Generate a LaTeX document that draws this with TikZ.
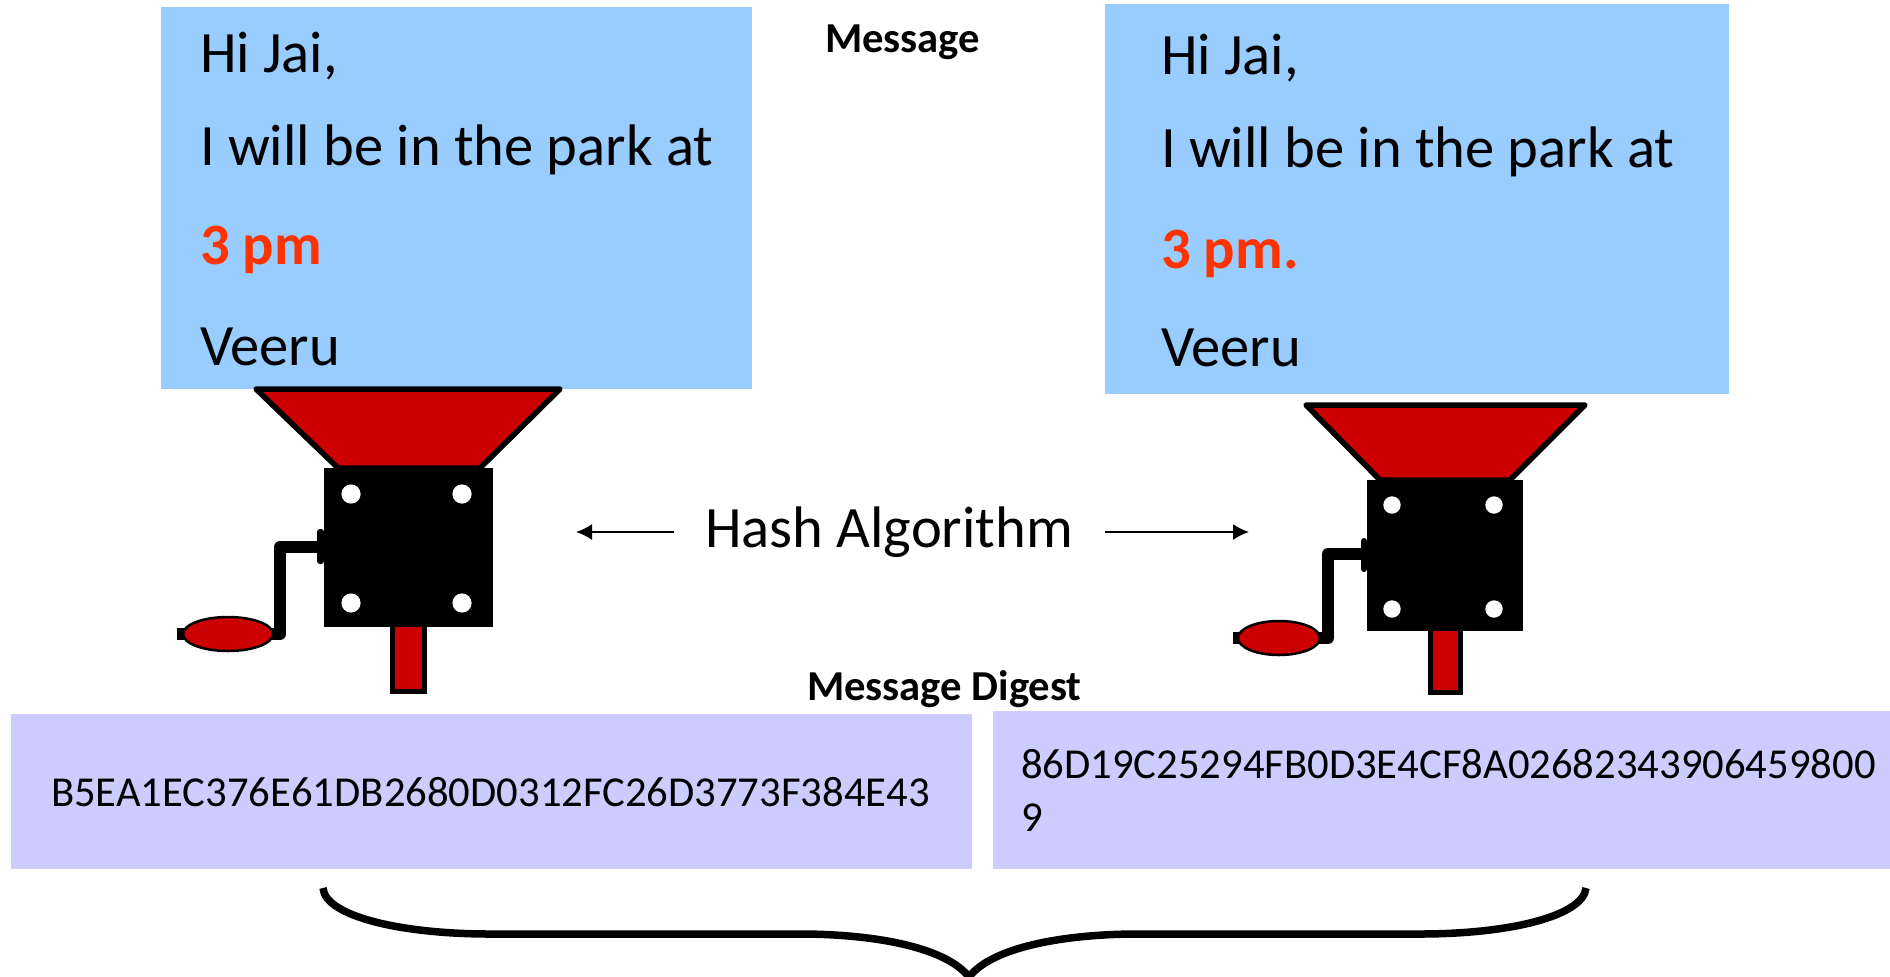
\documentclass[tikz,border=0pt]{standalone}
\usepackage{fontspec}
\setmainfont{Carlito}
\definecolor{msgblue}{HTML}{99CCFF}
\definecolor{digestblue}{HTML}{CCCCFF}
\definecolor{millred}{HTML}{CC0000}
\definecolor{hotred}{HTML}{FF3300}
\usetikzlibrary{arrows.meta}
\tikzset{
  msgbox/.style={fill=msgblue,draw=none},
  digestbox/.style={fill=digestblue,draw=none},
  txt/.style={anchor=base west,inner sep=0pt,outer sep=0pt,font=\fontsize{29.3pt}{34pt}\selectfont},
  hottxt/.style={anchor=base west,inner sep=0pt,outer sep=0pt,text=hotred,font=\fontsize{29.3pt}{34pt}\selectfont\bfseries},
  headtxt/.style={anchor=base west,inner sep=0pt,outer sep=0pt,font=\fontsize{21.33pt}{24pt}\selectfont\bfseries},
  hashtxt/.style={anchor=base west,inner sep=0pt,outer sep=0pt,font=\fontsize{21.33pt}{24pt}\selectfont},
  funnel/.style={fill=millred,draw=black,line width=2.75pt,line join=round},
  chute/.style={fill=millred,draw=black,line width=2.5pt},
  crank/.style={draw=black,line width=6pt,line join=round},
  handle/.style={fill=millred,draw=black,line width=1.25pt},
  hole/.style={fill=white,draw=none},
  harrow/.style={draw=black,line width=1pt,-{Latex[length=8pt,width=8pt]}},
  bracket/.style={draw=black,line width=3.75pt,line join=miter}
}
\begin{document}
\begin{tikzpicture}[x=0.5pt,y=-0.5pt]
\useasboundingbox (0,0) rectangle (1890,976);
\fill[white] (0,0) rectangle (1890,976);
% message boxes
\path[msgbox] (161,7) rectangle (752,389);
\path[msgbox] (1105,4) rectangle (1729,394);
\node[headtxt] (msghead) at (825,52) {Message};
\node[txt] (a1) at (200,72) {Hi Jai,};
\node[txt] (a2) at (200,165) {I will be in the park at};
\node[hottxt] (a3) at (200,264) {3 pm};
\node[txt] (a4) at (200,365) {Veeru};
\node[txt] (b1) at (1161,74) {Hi Jai,};
\node[txt] (b2) at (1161,167) {I will be in the park at};
\node[hottxt] (b3) at (1161,268) {3 pm.};
\node[txt] (b4) at (1161,366) {Veeru};
% left mill
\draw[crank] (320,547) -- (280,547) -- (280,634) -- (177,634);
\fill[rounded corners=1.5pt] (324,529) -- (317,529) -- (317,564) -- (324,564) -- cycle;
\draw[chute] (392.5,620) rectangle (424.5,691.5);
\draw[funnel] (256,389) -- (560,389) -- (480,468) -- (338,468) -- cycle;
\fill[black] (324,468) rectangle (493,627);
\foreach \x in {351,462} \foreach \y in {494,603} \fill[hole] (\x,\y) circle[radius=9.6];
\draw[handle] (228,634) ellipse[x radius=45,y radius=17];
% right mill
\draw[crank] (1362,554) -- (1328,554) -- (1328,638) -- (1233,638);
\fill[rounded corners=1.5pt] (1367,538) -- (1361,538) -- (1361,572) -- (1367,572) -- cycle;
\draw[chute] (1430.5,625) rectangle (1460.5,692.5);
\draw[funnel] (1306,405) -- (1585,405) -- (1510,480) -- (1380,480) -- cycle;
\fill[black] (1367,480) rectangle (1523,631);
\foreach \x in {1392,1494} \foreach \y in {505,609} \fill[hole] (\x,\y) circle[radius=8.7];
\draw[handle] (1279,638) ellipse[x radius=41,y radius=17];
% hash label and arrows
\node[txt] (hash) at (705,547) {Hash Algorithm};
\coordinate (lt) at (576,532);
\coordinate (ls) at (674,532);
\coordinate (rs) at (1105,532);
\coordinate (rt) at (1249,532);
\draw[harrow] (ls) -- (lt);
\draw[harrow] (rs) -- (rt);
% digests
\node[headtxt] (dighead) at (807,700) {Message Digest};
\path[digestbox] (11,714) rectangle (972,869);
\path[digestbox] (993,711) rectangle (1890,869);
\node[hashtxt] (d1) at (51,806) {B5EA1EC376E61DB2680D0312FC26D3773F384E43};
\node[hashtxt] (d2) at (1021,778) {86D19C25294FB0D3E4CF8A02682343906459800};
\node[hashtxt] (d3) at (1021,831) {9};
% brace
\draw[bracket] (323,888) .. controls (325,916) and (400,934) .. (490,934)
  -- (800,934) .. controls (870,934) and (945,946) .. (969,977)
  .. controls (993,946) and (1068,934) .. (1138,934)
  -- (1420,934) .. controls (1510,934) and (1583,916) .. (1586,888);
\end{tikzpicture}
\end{document}
